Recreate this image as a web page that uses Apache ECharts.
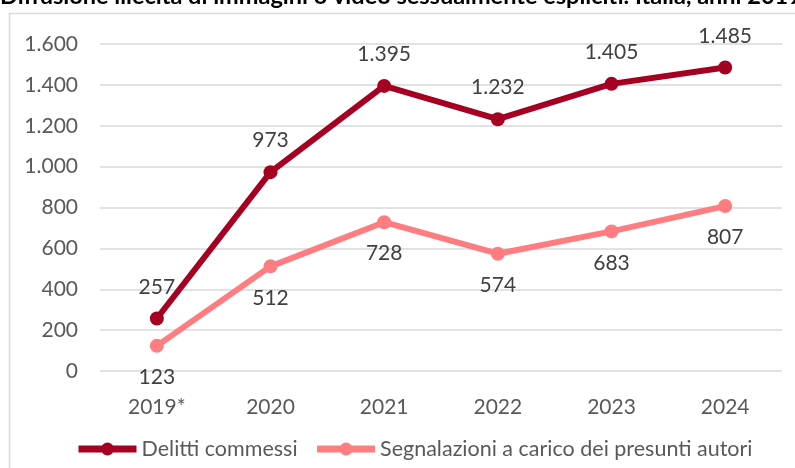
<!DOCTYPE html>
<html>
<head>
<meta charset="utf-8">
<script src="https://cdn.jsdelivr.net/npm/echarts@6/dist/echarts.min.js"></script>
<style>
  html, body { margin: 0; padding: 0; background: #fff; }
  #chart { width: 795px; height: 468px; }
</style>
</head>
<body>
<div id="chart"></div>
<script>
  const years = ['2019*', '2020', '2021', '2022', '2023', '2024'];
  const delitti = [257, 973, 1395, 1232, 1405, 1485];
  const segnalazioni = [123, 512, 728, 574, 683, 807];
  const yTicks = [0, 200, 400, 600, 800, 1000, 1200, 1400, 1600];

  const fmt = v => String(v).replace(/\B(?=(\d{3})+(?!\d))/g, '.');
  const font = 'Lato, "Open Sans", sans-serif';

  const chart = echarts.init(document.getElementById('chart'));
  chart.setOption({
    backgroundColor: '#ffffff',
    animation: false,
    textStyle: { fontFamily: font },
    title: {
      text: 'Diffusione illecita di immagini o video sessualmente espliciti. Italia, anni 2019-2024',
      left: 0,
      top: -16,
      padding: 0,
      textStyle: { fontSize: 23.5, fontWeight: 'bold', color: '#000', fontFamily: font }
    },
    graphic: [{
      type: 'rect',
      shape: { x: 9.5, y: 13.5, width: 800, height: 470 },
      style: { fill: 'none', stroke: '#d9d9d9', lineWidth: 1.5 },
      silent: true
    }],
    legend: {
      bottom: 3,
      left: 70,
      itemWidth: 58,
      itemHeight: 16,
      itemGap: 16,
      lineStyle: { width: 7 },
      textStyle: { fontSize: 21.5, color: '#595959' },
      data: ['Delitti commessi', 'Segnalazioni a carico dei presunti autori']
    },
    grid: { left: 100, right: 13, top: 44, bottom: 97 },
    xAxis: {
      type: 'category',
      data: years,
      axisLine: { show: false },
      axisTick: { show: false },
      axisLabel: { fontSize: 21, color: '#595959', margin: 26 }
    },
    yAxis: {
      type: 'value',
      min: yTicks[0],
      max: yTicks[yTicks.length - 1],
      interval: 200,
      axisLabel: { fontSize: 21, color: '#595959', margin: 22, formatter: fmt },
      splitLine: { lineStyle: { color: '#d9d9d9', width: 1.5 } }
    },
    series: [{
      name: 'Delitti commessi',
      type: 'line',
      data: delitti,
      symbol: 'circle',
      symbolSize: 14,
      lineStyle: { width: 6, color: '#a50021' },
      itemStyle: { color: '#a50021' },
      label: { show: true, position: 'top', distance: 14, fontSize: 21, color: '#404040', formatter: p => fmt(p.value) }
    }, {
      name: 'Segnalazioni a carico dei presunti autori',
      type: 'line',
      data: segnalazioni,
      symbol: 'circle',
      symbolSize: 14,
      lineStyle: { width: 6, color: '#ff7c80' },
      itemStyle: { color: '#ff7c80' },
      label: { show: true, position: 'bottom', distance: 14, fontSize: 21, color: '#404040', formatter: p => fmt(p.value) }
    }]
  });
</script>
</body>
</html>
